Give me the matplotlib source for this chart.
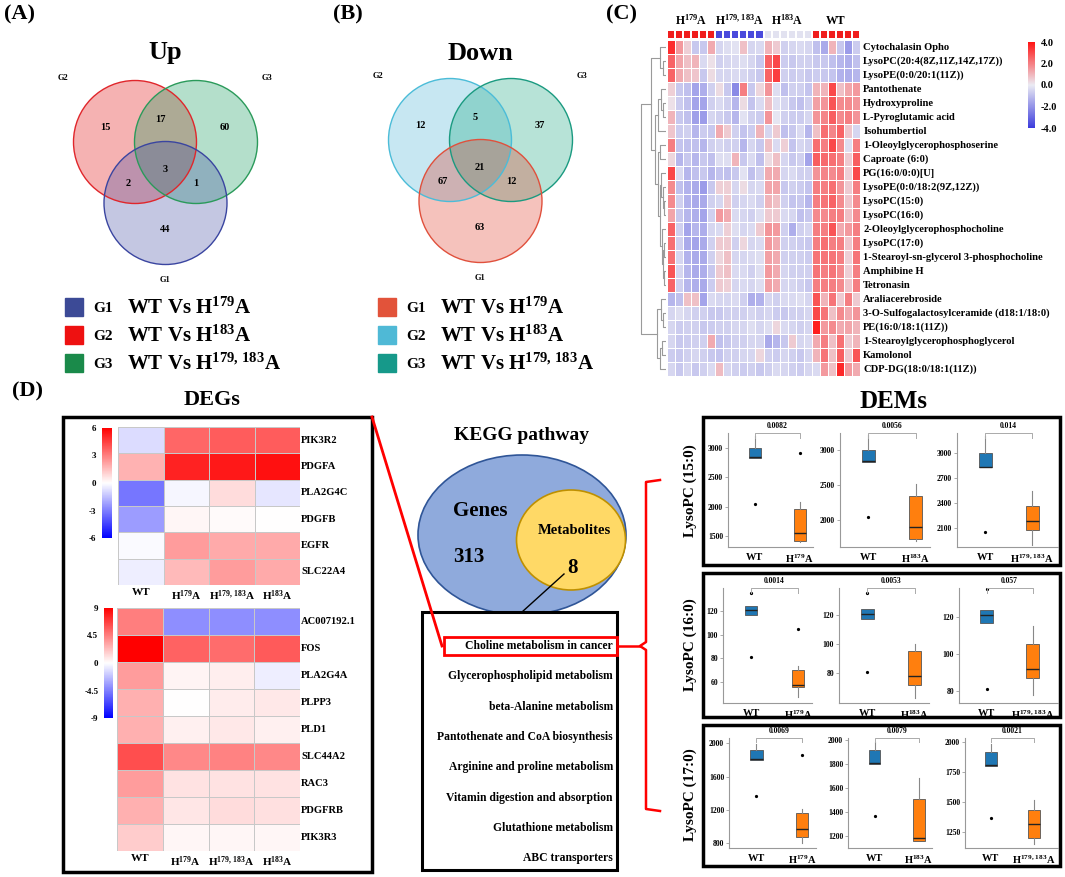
import numpy as np
import matplotlib
matplotlib.use('Agg')
import matplotlib.pyplot as plt
import matplotlib.transforms as mtransforms
from matplotlib.patches import Circle, Ellipse, Rectangle
from matplotlib.colors import LinearSegmentedColormap, ListedColormap, Normalize
from matplotlib.cm import ScalarMappable

plt.rcParams['font.family'] = ['Liberation Serif', 'DejaVu Serif']
plt.rcParams['font.weight'] = 'bold'
plt.rcParams['mathtext.fontset'] = 'custom'
plt.rcParams['mathtext.rm'] = 'Liberation Serif:bold'
plt.rcParams['mathtext.it'] = 'Liberation Serif:italic:bold'
plt.rcParams['mathtext.bf'] = 'Liberation Serif:bold'

# ---------------- data ----------------
# Venn counts, region order: only G2, G2&G3, only G3, all, G2&G1, G3&G1, only G1
up_counts = [15, 17, 60, 3, 2, 1, 44]
down_counts = [12, 5, 37, 21, 67, 12, 63]
cmp_labels = [r'WT Vs H$^{179}$A', r'WT Vs H$^{183}$A', r'WT Vs H$^{179,\,183}$A']

# panel C metabolite heatmap (z-scores), 24 samples: H179A x6, H179,183A x6, H183A x6, WT x6
met_groups = [r'H$^{179}$A', r'H$^{179,\,183}$A', r'H$^{183}$A', 'WT']
met_names = ["Cytochalasin Opho", "LysoPC(20:4(8Z,11Z,14Z,17Z))", "LysoPE(0:0/20:1(11Z))",
             "Pantothenate", "Hydroxyproline", "L-Pyroglutamic acid", "Isohumbertiol",
             "1-Oleoylglycerophosphoserine", "Caproate (6:0)", "PG(16:0/0:0)[U]",
             "LysoPE(0:0/18:2(9Z,12Z))", "LysoPC(15:0)", "LysoPC(16:0)",
             "2-Oleoylglycerophosphocholine", "LysoPC(17:0)",
             "1-Stearoyl-sn-glycerol 3-phosphocholine", "Amphibine H", "Tetronasin",
             "Araliacerebroside", "3-O-Sulfogalactosylceramide (d18:1/18:0)",
             "PE(16:0/18:1(11Z))", "1-Stearoylglycerophosphoglycerol", "Kamolonol",
             "CDP-DG(18:0/18:1(11Z))"]
met_vals = [
    [3.5, 1.5, 0.5, -0.8, -0.8, 1.2, -0.5, -0.3, -0.2, 0.8, -0.5, -0.4, 1.0, 0.6, -0.6, -0.5, -0.4, -0.5, -1.0, -1.5, 1.0, -0.8, -1.8, -0.7],
    [2.5, 1.3, 0.8, 1.0, -0.4, 0.2, -0.6, -0.5, -0.4, -0.3, -0.5, -0.8, 2.5, 3.0, -0.7, -0.8, -0.6, -0.6, -0.8, -0.8, -1.0, -1.2, -1.4, -1.0],
    [2.5, 1.2, 0.8, 0.7, -0.8, 0.3, -0.5, -0.5, -0.4, -0.5, -0.6, -0.8, 2.5, 3.2, -0.6, -0.7, -0.6, -0.8, -0.7, -0.8, -0.9, -1.3, -1.4, -1.2],
    [0.5, -0.8, -1.0, -1.6, -1.4, -0.6, 0.3, -0.8, -2.2, 2.0, -0.8, 0.4, 1.6, -0.3, -1.0, -0.6, -0.6, -0.9, 1.0, 1.0, 3.0, 0.8, 1.3, 1.5],
    [0.2, -0.7, -1.0, -1.6, -1.6, -0.6, -0.4, -0.6, -1.2, 0.3, -0.9, -0.4, 0.8, -0.3, -0.5, -0.8, -1.0, -0.6, 1.4, 1.6, 2.8, 1.8, 1.8, 1.6],
    [1.0, -0.8, -1.0, -1.7, -1.8, -0.5, -0.6, -0.8, -1.2, -0.2, -0.6, -0.7, 1.6, -0.1, -0.6, -0.7, -0.7, -0.5, 1.6, 1.9, 2.6, 1.8, 2.0, 1.6],
    [0.7, -0.7, -0.6, -1.2, -0.7, -0.8, 1.2, 0.6, -0.6, -0.9, -0.7, 1.0, -0.5, 0.6, -1.0, -0.8, -0.4, -1.2, 0.8, 2.3, 1.9, 2.5, 0.7, -0.5],
    [2.0, -0.9, -1.0, -1.0, -1.2, -0.6, -0.5, -0.6, -0.6, -1.2, -0.5, -0.8, 0.8, -0.4, 0.5, -0.9, -0.5, -0.6, 2.3, 2.0, 3.0, 1.8, -0.3, 2.0],
    [0.4, -1.2, -0.8, -1.2, -0.8, -1.0, -0.3, -0.3, 1.0, -0.8, -0.4, -1.0, 0.3, 0.8, -0.5, -0.8, -0.6, -1.6, 2.6, 2.4, 2.3, 2.0, 0.6, 2.6],
    [3.0, -0.4, -1.2, -1.0, -0.8, -1.2, -0.9, -1.0, -0.8, -0.2, -1.0, -0.6, 1.2, 1.2, -0.5, -0.4, -0.6, -0.6, 1.6, 1.9, 1.8, 2.0, 0.5, 3.0],
    [1.8, -1.0, -1.3, -1.5, -1.8, -0.8, 0.5, 0.5, -0.5, 0.3, -0.5, -0.4, 1.3, 1.3, -0.8, -0.6, -0.7, -0.9, 2.0, 2.0, 2.3, 1.6, 0.6, 2.0],
    [1.8, -0.6, -1.3, -1.5, -1.5, -0.6, -0.5, 0.6, -0.6, -0.5, -0.4, -0.6, 1.0, 0.8, -0.6, -0.9, -0.8, -1.2, 2.0, 2.2, 2.5, 1.8, 0.7, 1.8],
    [1.3, -0.8, -1.2, -1.4, -1.6, -0.6, 1.5, 1.2, -0.4, -0.5, -0.6, -0.3, 0.6, 0.6, -0.4, -0.5, -1.0, -0.8, 1.8, 1.8, 2.0, 2.0, 0.8, 1.8],
    [2.5, -0.6, -1.6, -1.2, -1.4, -0.5, -0.4, 0.5, -0.3, -0.5, -0.4, 0.6, 1.6, 1.5, -0.6, -1.4, -0.6, -0.5, 2.0, 2.0, 2.8, 1.2, 1.5, 2.0],
    [2.3, -0.6, -1.5, -1.6, -1.5, -0.6, 0.6, 0.6, -0.6, 0.4, -0.5, -0.4, 1.5, 1.2, -0.6, -0.6, -0.7, -0.8, 2.0, 2.3, 2.0, 2.0, 0.7, 2.0],
    [2.3, -0.5, -1.3, -1.5, -1.5, -0.6, 0.4, 0.8, -0.5, -0.5, -0.4, -0.3, 1.4, 1.2, -0.6, -0.6, -0.6, -0.7, 2.2, 2.2, 2.2, 2.0, 0.5, 2.2],
    [2.8, -0.5, -1.2, -1.5, -1.4, -0.8, 0.6, 0.8, -0.4, -0.4, -0.6, -0.3, 1.5, 1.2, -0.5, -0.6, -0.6, -0.6, 2.2, 2.0, 2.2, 1.8, 0.5, 2.0],
    [2.5, -0.6, -1.2, -1.4, -1.5, -0.7, 0.6, 0.5, -0.5, -0.4, -0.5, -0.3, 1.4, 1.2, -0.5, -0.5, -0.6, -0.8, 2.0, 2.0, 2.0, 1.8, 0.7, 2.0],
    [-1.2, -1.0, 0.8, 0.8, -1.6, -0.4, -0.5, -0.5, -0.4, -0.6, -1.4, -1.3, -0.5, -0.6, -0.4, -0.4, -0.3, -0.5, 2.8, 1.0, 2.2, 0.6, 2.0, 0.6],
    [-0.5, -0.3, -0.5, -0.6, -0.6, -0.8, -0.8, -0.6, -0.6, -0.6, -0.5, -0.6, -0.5, -0.7, -0.8, -0.6, -0.6, -0.5, 3.0, 2.2, 0.8, 1.8, 1.2, 1.6],
    [-0.5, -0.7, -0.6, -0.6, -0.8, -0.7, -0.6, -0.6, -0.5, -0.5, -0.3, -0.5, -0.3, 0.4, -0.4, -0.5, -0.6, -0.5, 3.8, 1.5, 1.8, 1.2, 1.3, 1.0],
    [-0.5, -0.8, -0.7, -0.6, -0.6, 1.2, -1.0, -0.8, -0.6, -0.6, -0.5, -0.5, -1.5, -1.2, -0.8, 0.6, -0.5, -0.4, 1.2, 2.0, 0.8, 2.3, 0.6, 1.0],
    [-0.7, -0.8, -0.6, -0.5, -0.6, -0.8, -0.9, -0.6, -0.6, -0.5, -0.5, 0.4, -0.6, -0.7, -0.5, -0.6, -0.8, -0.5, 1.0, 2.2, 0.8, 2.6, 0.6, 2.8],
    [-0.5, -0.8, -0.5, -0.8, -0.6, -0.4, 0.9, -0.5, -0.6, -0.7, -0.6, -0.8, -0.6, -0.4, -0.5, -0.6, -0.7, -0.5, -0.4, 1.5, 0.8, 3.6, 1.5, 1.2],
]
# row dendrogram: leaf = row index, node = (left, right, height)
met_tree = ((((1, 2, 1.0), 0, 2.5),
             (((3, (4, 5, 1.0), 2.0), 6, 3.0),
              ((7, 8, 2.5),
               ((9, (10, (11, 12, 0.8), 1.2), 2.0),
                (13, ((14, 15, 0.6), (16, 17, 0.6), 1.0), 1.6), 2.5), 3.2), 4.2), 6.0),
            ((18, (19, 20, 1.0), 2.0), ((21, 22, 1.5), 23, 2.5), 3.5), 10.0)

# panel D DEGs
deg_cols = ['WT', r'H$^{179}$A', r'H$^{179,\,183}$A', r'H$^{183}$A']
deg_top_genes = ['PIK3R2', 'PDGFA', 'PLA2G4C', 'PDGFB', 'EGFR', 'SLC22A4']
deg_top_vals = [[-0.8, 3.6, 3.8, 3.8],
                [1.8, 5.2, 5.4, 5.6],
                [-3.2, -0.2, 0.8, -0.6],
                [-2.3, 0.2, 0.1, 0.0],
                [-0.1, 2.3, 2.0, 2.0],
                [-0.4, 1.6, 2.3, 2.0]]
deg_bot_genes = ['AC007192.1', 'FOS', 'PLA2G4A', 'PLPP3', 'PLD1', 'SLC44A2', 'RAC3', 'PDGFRB', 'PIK3R3']
deg_bot_vals = [[4.5, -4.0, -4.0, -4.0],
                [9.0, 5.5, 5.2, 5.8],
                [3.5, 0.4, 0.6, -0.6],
                [2.8, 0.0, 0.7, 0.8],
                [2.8, 0.5, 0.8, 0.5],
                [6.2, 4.2, 4.4, 4.2],
                [3.5, 1.0, 1.0, 1.0],
                [2.8, 0.9, 1.2, 1.1],
                [1.8, 0.3, 0.3, 0.3]]

# KEGG
kegg_genes = 313
kegg_mets = 8
pathways = ['Choline metabolism in cancer', 'Glycerophospholipid metabolism',
            'beta-Alanine metabolism', 'Pantothenate and CoA biosynthesis',
            'Arginine and proline metabolism', 'Vitamin digestion and absorption',
            'Glutathione metabolism', 'ABC transporters']

# DEMs boxplots: (q1, median, q3, whisker low, whisker high, outliers)
dem_names = ['LysoPC (15:0)', 'LysoPC (16:0)', 'LysoPC (17:0)']
dem_mutants = [r'H$^{179}$A', r'H$^{183}$A', r'H$^{179,\,183}$A']
dem_wt = [(2830, 2840, 3000, 2830, 3210, [2050]),
          (117, 121, 124, 117, 124, [135, 81]),
          (1800, 1805, 1915, 1800, 1985, [1370])]
dem_mut = [[(1430, 1550, 1970, 1410, 2080, [2910]),
            (1740, 1910, 2350, 1700, 2510, []),
            (2075, 2180, 2365, 1890, 2540, [])],
           [(55, 57, 70, 47, 73, [105]),
            (72, 78, 95, 63, 100, []),
            (87, 92, 105.5, 78, 115, [])],
           [(880, 970, 1170, 800, 1210, [1855]),
            (1160, 1180, 1510, 1160, 1680, []),
            (1200, 1320, 1430, 1150, 1520, [])]]
dem_p = [['0.0082', '0.0056', '0.014'],
         ['0.0014', '0.0053', '0.057'],
         ['0.0069', '0.0079', '0.0021']]
dem_ticks = [[[1500, 2000, 2500, 3000], [2000, 2500, 3000], [2100, 2400, 2700, 3000]],
             [[60, 80, 100, 120], [80, 100, 120], [80, 100, 120]],
             [[800, 1200, 1600, 2000], [1200, 1400, 1600, 1800, 2000], [1250, 1500, 1750, 2000]]]
dem_ylim = [[(1320, 3255), (1620, 3240), (1870, 3245)],
            [(41.7, 139.6), (59.3, 138.6), (73.5, 135.7)],
            [(746, 2060), (1100, 2017), (1117, 2033)]]

# ---------------- figure ----------------
W, H = 1065, 877
fig = plt.figure(figsize=(W / 100, H / 100), dpi=100)


def add_ax(x0, y0, x1, y1):
    return fig.add_axes([x0 / W, 1 - y1 / H, (x1 - x0) / W, (y1 - y0) / H])


base = fig.add_axes([0, 0, 1, 1])
base.set_xlim(0, W)
base.set_ylim(H, 0)
base.axis('off')

for lab, x, y in [('(A)', 4, 14), ('(B)', 333, 14), ('(C)', 606, 14), ('(D)', 12, 391)]:
    base.text(x, y, lab, fontsize=16, va='center')

# ---- Venn diagrams ----
circ_off = [(0, 0), (61, 0), (30.5, 61)]
reg_off = [(-30, -14), (25, -22), (90, -14), (30, 28), (-7, 41), (61, 41), (30, 88)]


def venn(ox, oy, title, counts, faces, edges):
    base.text(ox + 30, 53, title, fontsize=19, ha='center', va='center')
    for (dx, dy), fc in zip(circ_off, faces):
        base.add_patch(Circle((ox + dx, oy + dy), 61.5, facecolor=fc, alpha=0.3, edgecolor='none'))
    for (dx, dy), ec in zip(circ_off, edges):
        base.add_patch(Circle((ox + dx, oy + dy), 61.5, facecolor='none', edgecolor=ec, lw=1))
    for (dx, dy), n in zip(reg_off, counts):
        base.text(ox + dx, oy + dy, str(n), fontsize=7.5, ha='center', va='center')
    base.text(ox - 72, oy - 64, 'G2', fontsize=6, ha='center', va='center')
    base.text(ox + 132, oy - 64, 'G3', fontsize=6, ha='center', va='center')
    base.text(ox + 30, oy + 138, 'G1', fontsize=6, ha='center', va='center')


venn(135, 142, 'Up', up_counts, ['#de0000', '#099855', '#3e48a2'], ['#e0262b', '#2a9a5a', '#3a45a0'])
venn(450, 140, 'Down', down_counts, ['#48b2d4', '#12a57d', '#de3723'], ['#4bbcd8', '#1a9a80', '#e0503c'])


def venn_legend(x0, colors):
    for i, (c, lab) in enumerate(zip(colors, cmp_labels)):
        y = 307 + 28 * i
        base.add_patch(Rectangle((x0, y - 9), 18, 18, color=c))
        base.text(x0 + 28, y + 5, 'G%d' % (i + 1), fontsize=11, va='baseline')
        base.text(x0 + 62, y + 7, lab, fontsize=15, va='baseline')


venn_legend(65, ['#3c4a96', '#ee1111', '#1a8a4a'])
venn_legend(378, ['#e2533a', '#4fb9d6', '#16998a'])

# ---- panel C heatmap ----
cmap_c = LinearSegmentedColormap.from_list('c', ['#3c3cdc', '#ebebf3', '#ff1414'])
hm = add_ax(667, 40, 860, 376)
hm.pcolormesh(np.array(met_vals), cmap=cmap_c, vmin=-4, vmax=4, edgecolors='white', linewidth=0.6)
hm.set_xlim(0, 24)
hm.set_ylim(24, 0)
hm.axis('off')
for i, lab in enumerate(met_names):
    hm.text(24.4, i + 0.5, lab, fontsize=7.6, va='center', ha='left')

gb = add_ax(667, 30, 860, 39)
codes = np.repeat(np.arange(4), 6)[None, :]
gb.pcolormesh(codes, cmap=ListedColormap(['#f01e1e', '#4a4adc', '#e2e2f0', '#f01e1e']),
              vmin=-0.5, vmax=3.5, edgecolors='white', linewidth=0.3)
gb.set_xlim(0, 24)
gb.set_ylim(1, 0)
gb.axis('off')
for k, g in enumerate(met_groups):
    gb.text(6 * k + 3, -0.3, g, fontsize=8.5, ha='center', va='bottom')

cax = add_ax(1028, 42, 1035, 128)
cb = fig.colorbar(ScalarMappable(Normalize(-4, 4), cmap_c), cax=cax, ticks=[4, 2, 0, -2, -4])
cb.outline.set_visible(False)
cb.ax.set_yticklabels(['4.0', '2.0', '0.0', '-2.0', '-4.0'])
cb.ax.tick_params(length=0, labelsize=7.5, pad=4)

dax = add_ax(640, 40, 666, 376)
dax.set_ylim(24, 0)
dax.set_xlim(10.2, 0)
dax.axis('off')


def draw_tree(node):
    if isinstance(node, int):
        return node + 0.5, 0
    l, r, h = node
    yl, hl = draw_tree(l)
    yr, hr = draw_tree(r)
    dax.plot([hl, h, h, hr], [yl, yl, yr, yr], color='#9a9a9a', lw=0.8)
    return (yl + yr) / 2, h


draw_tree(met_tree)

# ---- panel D: DEGs ----
base.add_patch(Rectangle((63, 417), 309, 455, fill=False, edgecolor='black', lw=2.5))
base.text(212, 400, 'DEGs', fontsize=16, ha='center', va='center')


def deg_heat(box, cbox, vals, genes, lim, ticks, ticklabels):
    ax = add_ax(*box)
    n = len(genes)
    ax.pcolormesh(np.array(vals), cmap='bwr', vmin=-lim, vmax=lim, edgecolors='#c8c8c8', linewidth=0.6)
    ax.set_xlim(0, 4)
    ax.set_ylim(n, 0)
    ax.axis('off')
    for i, g in enumerate(genes):
        ax.text(4.03, i + 0.5, g, fontsize=7.6, va='center', ha='left')
    for j, c in enumerate(deg_cols):
        ax.text(j + 0.5, n + 0.12, c, fontsize=8, ha='center', va='top')
    cx = add_ax(*cbox)
    cbar = fig.colorbar(ScalarMappable(Normalize(-lim, lim), 'bwr'), cax=cx, ticks=ticks)
    cbar.outline.set_visible(False)
    cx.yaxis.set_ticks_position('left')
    cx.set_yticklabels(ticklabels)
    cx.tick_params(length=0, labelsize=6.5, pad=4)


deg_heat((118, 427, 300, 585), (102, 428, 112, 538), deg_top_vals, deg_top_genes, 6,
         [6, 3, 0, -3, -6], ['6', '3', '0', '-3', '-6'])
deg_heat((117, 608, 300, 851), (104, 608, 113, 718), deg_bot_vals, deg_bot_genes, 9,
         [9, 4.5, 0, -4.5, -9], ['9', '4.5', '0', '-4.5', '-9'])

# ---- KEGG ----
base.text(521, 436, 'KEGG pathway', fontsize=14, ha='center', va='center')
base.add_patch(Ellipse((522, 535), 208, 160, facecolor='#8faadc', edgecolor='#2f5597', lw=1.2))
base.add_patch(Ellipse((571, 540), 109, 100, facecolor='#ffd966', edgecolor='#bf9000', lw=1.2))
base.text(480, 511, 'Genes', fontsize=15, ha='center', va='center')
base.text(469, 557, str(kegg_genes), fontsize=15, ha='center', va='center')
base.text(574, 530, 'Metabolites', fontsize=10.5, ha='center', va='center')
base.text(573, 568, str(kegg_mets), fontsize=15, ha='center', va='center')
base.plot([564, 522], [574, 612], color='black', lw=1)
base.add_patch(Rectangle((422, 612), 195, 258, facecolor='white', edgecolor='black', lw=2.2))
for i, p in enumerate(pathways):
    base.text(613, 646 + 30.3 * i, p, fontsize=8.4, ha='right', va='center')
base.add_patch(Rectangle((444, 637), 173, 18, fill=False, edgecolor='red', lw=2))
base.plot([372, 442], [417, 646], color='red', lw=2)
base.plot([617, 640], [646, 646], color='red', lw=1.8)
base.plot([660, 646, 646, 640, 646, 646, 660], [480, 482, 642, 646, 650, 809, 811], color='red', lw=1.8)

# ---- DEMs ----
base.text(893, 402, 'DEMs', fontsize=18, ha='center', va='center')
dem_boxes = [(703, 417, 1060, 565), (703, 573, 1060, 717), (703, 725, 1060, 866)]
dem_rows = [(433, 547), (588, 703), (738, 848)]
dem_cols = [[(728, 813), (840, 930), (957, 1058)],
            [(723, 812), (839, 929), (959, 1058)],
            [(729, 816), (848, 932), (965, 1058)]]
dem_label_y = [491, 645, 795]


def stat(s):
    q1, med, q3, lo, hi, fl = s
    return dict(q1=q1, med=med, q3=q3, whislo=lo, whishi=hi, fliers=fl)


for r in range(3):
    x0, y0, x1, y1 = dem_boxes[r]
    base.add_patch(Rectangle((x0, y0), x1 - x0, y1 - y0, fill=False, edgecolor='black', lw=2.5))
    base.text(690, dem_label_y[r], dem_names[r], fontsize=11, rotation=90, ha='center', va='center')
    for c in range(3):
        ax = add_ax(dem_cols[r][c][0], dem_rows[r][0], dem_cols[r][c][1], dem_rows[r][1])
        bp = ax.bxp([stat(dem_wt[r]), stat(dem_mut[r][c])], positions=[0, 1], widths=0.27,
                    patch_artist=True, showcaps=False,
                    flierprops=dict(marker='o', markersize=1.3, markerfacecolor='black',
                                    markeredgecolor='black'),
                    medianprops=dict(color='#222222', lw=1),
                    boxprops=dict(edgecolor='#555555', lw=0.6),
                    whiskerprops=dict(color='#888888', lw=0.8))
        for patch, col in zip(bp['boxes'], ['#1f77b4', '#ff7f0e']):
            patch.set_facecolor(col)
        ax.set_xlim(-0.6, 1.55 if c == 2 else 1.3)
        ax.set_ylim(*dem_ylim[r][c])
        ax.set_yticks(dem_ticks[r][c])
        ax.set_xticks([0, 1])
        ax.set_xticklabels(['WT', dem_mutants[c]])
        ax.tick_params(axis='x', length=0, labelsize=7.5, pad=4)
        ax.tick_params(axis='y', length=2, width=0.5, color='#888888', labelsize=5.5, pad=1.5)
        for s in ['top', 'right']:
            ax.spines[s].set_visible(False)
        for s in ['left', 'bottom']:
            ax.spines[s].set_color('#999999')
            ax.spines[s].set_linewidth(0.8)
        tr = mtransforms.blended_transform_factory(ax.transData, ax.transAxes)
        ax.plot([0, 0, 1, 1], [0.96, 1.0, 1.0, 0.96], color='#aaaaaa', lw=0.7,
                transform=tr, clip_on=False)
        ax.text(0.5, 1.025, dem_p[r][c], fontsize=5.5, ha='center', va='bottom',
                transform=tr)

fig.savefig('out.png', dpi=100)
